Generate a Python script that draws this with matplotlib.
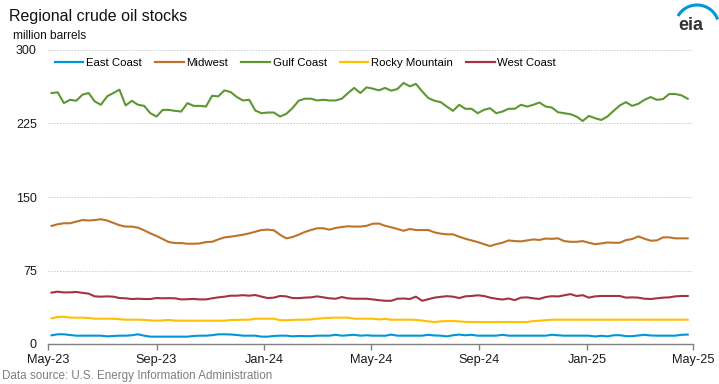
import matplotlib
matplotlib.use("Agg")
import matplotlib.pyplot as plt
import matplotlib.dates as mdates
from matplotlib.patches import Arc
from matplotlib.transforms import IdentityTransform
import pandas as pd

plt.rcParams['font.family'] = ['Liberation Sans', 'DejaVu Sans']

# ---- data (million barrels, weekly) ----
start_week = "2023-05-05"
n_weeks = 104

east_coast = [8.9, 9.9, 9.9, 9.2, 8.5, 8.5, 8.5, 8.5, 8.5, 7.8,
              8.2, 8.5, 8.5, 8.9, 9.9, 8.5, 7.5, 7.5, 7.5, 7.5,
              7.5, 7.5, 7.5, 8.2, 8.5, 8.5, 9.0, 9.9, 9.9, 9.7,
              9.2, 8.5, 8.5, 8.5, 7.5, 7.5, 8.2, 8.5, 8.5, 7.8,
              8.2, 8.0, 8.0, 8.5, 8.5, 8.5, 9.4, 8.5, 8.9, 9.4,
              8.5, 8.9,
              8.5, 8.5, 8.4, 9.6, 8.5, 8.5, 8.5, 8.5, 8.5, 9.4,
              8.7, 8.5, 7.8, 8.9, 9.6, 8.9, 9.4, 8.5, 8.5, 8.5,
              8.5, 9.4, 8.5, 8.5, 8.5, 8.5, 8.5, 8.5, 8.5, 9.4,
              8.9, 8.5, 8.5, 8.5, 8.5, 8.5, 7.7, 8.4, 7.8, 8.9,
              9.0, 8.0, 8.0, 8.7, 9.4, 8.7, 8.5, 8.5, 8.5, 8.5,
              9.4, 9.6]

midwest = [120.5, 122.2, 123.2, 123.2, 124.9, 126.5, 126.0, 126.5, 127.3, 126.0,
           123.6, 121.2, 119.8, 119.8, 118.7, 116.0, 112.9, 110.2, 107.1, 104.0,
           103.0, 103.0, 102.3, 102.3, 102.6, 104.0, 104.3, 106.7, 108.8, 109.5,
           110.5, 111.5, 112.9, 114.6, 116.3, 116.7, 116.0, 111.5, 107.8, 109.1,
           111.5, 114.3, 116.3, 118.1, 118.1, 116.7, 118.4, 119.4, 120.1, 119.8,
           119.8, 120.6,
           122.7, 122.9, 120.6, 119.1, 117.4, 115.5, 117.4, 116.3, 116.3, 116.3,
           113.9, 112.6, 111.9, 111.9, 109.5, 107.4, 105.7, 104.0, 101.9, 99.9,
           101.9, 103.3, 105.7, 105.0, 104.7, 105.7, 106.7, 106.2, 107.6, 107.3,
           107.8, 105.0, 104.3, 104.3, 105.0, 103.3, 101.9, 102.6, 103.6, 103.3,
           103.3, 106.0, 107.1, 109.8, 107.4, 105.4, 105.7, 108.8, 108.8, 107.8,
           107.8, 107.8]

gulf_coast = [256.1, 256.8, 245.8, 249.2, 248.2, 254.4, 256.1, 247.5, 244.1, 252.7,
              256.1, 259.5, 243.4, 248.2, 244.1, 243.0, 235.5, 232.1, 238.9, 238.9,
              237.9, 237.2, 245.8, 243.0, 243.0, 242.3, 253.3, 252.7, 258.8, 257.1,
              252.0, 248.5, 249.2, 238.2, 235.5, 236.2, 236.2, 232.1, 234.8, 240.6,
              248.2, 250.3, 250.3, 248.5, 249.2, 248.5, 248.5, 250.3, 256.1, 261.3,
              256.1, 261.9,
              260.6, 258.8, 261.3, 258.5, 260.2, 266.4, 262.9, 265.4, 257.8, 251.0,
              248.2, 246.8, 242.3, 237.9, 244.1, 240.0, 240.0, 235.5, 238.9, 240.6,
              235.5, 237.2, 240.0, 240.0, 244.1, 242.3, 244.1, 246.4, 242.3, 241.3,
              236.5, 235.5, 234.5, 232.1, 227.6, 232.7, 230.4, 228.6, 232.1, 237.9,
              243.4, 246.8, 243.0, 245.1, 249.2, 252.0, 249.2, 249.9, 255.1, 255.1,
              253.7, 250.3]

rocky_mountain = [26.2, 27.5, 27.9, 26.9, 26.9, 26.9, 26.5, 25.8, 25.8, 25.8,
                  25.8, 25.3, 24.8, 24.8, 24.8, 24.6, 24.1, 23.8, 24.1, 24.6,
                  23.9, 23.8, 23.8, 23.8, 23.8, 23.8, 23.8, 23.8, 23.8, 24.5,
                  24.6, 24.8, 24.8, 25.8, 25.8, 25.8, 25.8, 24.3, 24.3, 24.6,
                  24.8, 24.8, 25.1, 25.8, 26.3, 26.7, 26.9, 26.9, 26.9, 25.8,
                  25.8, 25.8,
                  25.8, 25.1, 25.6, 24.8, 24.8, 24.8, 24.8, 24.6, 23.9, 23.1,
                  22.4, 23.1, 23.4, 23.4, 23.1, 22.6, 22.4, 22.4, 22.4, 22.4,
                  22.4, 22.4, 22.4, 22.4, 22.4, 22.4, 23.4, 23.8, 24.3, 24.8,
                  24.8, 24.8, 24.8, 24.8, 24.8, 24.8, 24.8, 24.8, 24.8, 24.8,
                  24.8, 24.8, 24.8, 24.8, 24.8, 24.8, 24.8, 24.8, 24.8, 24.8,
                  24.8, 24.8]

west_coast = [52.4, 53.4, 52.6, 52.7, 53.1, 52.2, 51.4, 48.6, 48.3, 48.6,
              48.3, 46.9, 46.6, 45.9, 46.2, 45.9, 45.9, 46.9, 46.6, 46.8,
              46.6, 45.5, 45.7, 46.0, 45.5, 45.5, 46.6, 47.6, 48.3, 49.3,
              49.3, 49.8, 49.3, 50.0, 48.3, 46.9, 47.3, 49.0, 48.6, 46.9,
              46.8, 47.3, 47.6, 48.6, 47.6, 46.6, 46.2, 47.9, 46.6, 46.2,
              46.2, 46.2,
              45.5, 44.7, 44.1, 44.1, 46.2, 46.4, 45.9, 48.3, 44.1, 45.7,
              47.3, 48.1, 48.8, 48.3, 46.9, 48.6, 49.0, 49.7, 49.0, 47.3,
              46.2, 45.4, 46.4, 44.8, 47.3, 47.6, 46.6, 46.0, 47.9, 48.8,
              48.5, 49.7, 50.9, 49.0, 49.8, 47.3, 48.6, 49.0, 49.0, 49.0,
              49.0, 47.3, 47.6, 47.3, 46.2, 45.9, 46.6, 47.3, 47.6, 48.6,
              49.0, 49.0]

series_names = ["East Coast", "Midwest", "Gulf Coast", "Rocky Mountain", "West Coast"]
series_values = [east_coast, midwest, gulf_coast, rocky_mountain, west_coast]
series_colors = ["#0096d7", "#bd732a", "#5d9732", "#ffc000", "#a33340"]

y_ticks = [0, 75, 150, 225, 300]
x_tick_dates = ["2023-05-01", "2023-09-01", "2024-01-01", "2024-05-01",
                "2024-09-01", "2025-01-01", "2025-05-01"]

weeks = pd.date_range(start_week, periods=n_weeks, freq="7D")

# ---- figure ----
W, H = 719, 384
fig = plt.figure(figsize=(W / 100, H / 100), dpi=100)
ax = fig.add_axes([48 / W, 1 - 344 / H, (693 - 48) / W, (344 - 50) / H])

for name, vals, col in zip(series_names, series_values, series_colors):
    ax.plot(weeks, vals, color=col, lw=1.5, label=name, solid_joinstyle="round")

ax.set_xlim(pd.Timestamp("2023-05-01"), pd.Timestamp("2025-05-01"))
ax.set_ylim(0, 300)
ax.set_yticks(y_ticks)
ax.set_xticks(pd.to_datetime(x_tick_dates))
ax.xaxis.set_major_formatter(mdates.DateFormatter("%b-%y"))

ax.grid(axis="y", color="#cdc8d0", lw=0.7, linestyle=(0, (1.5, 1.5)))
ax.set_axisbelow(True)
for s in ["left", "top", "right"]:
    ax.spines[s].set_visible(False)
ax.spines["bottom"].set_color("#808080")
ax.spines["bottom"].set_linewidth(1.0)
ax.tick_params(axis="y", length=0, pad=8, labelsize=9, labelcolor="#1a1a1a")
ax.tick_params(axis="x", length=4, width=1, color="#808080", pad=3,
               labelsize=9.2, labelcolor="#1a1a1a")

leg = ax.legend(loc="center left", bbox_to_anchor=(55 / W, 1 - 63 / H),
                bbox_transform=fig.transFigure, ncol=5, frameon=False,
                fontsize=8.2, handlelength=2.5, handletextpad=0.25,
                columnspacing=1.15, borderpad=0, borderaxespad=0)
for line in leg.get_lines():
    line.set_linewidth(1.6)

fig.text(9 / W, 1 - 21 / H, "Regional crude oil stocks", fontsize=11.5,
         color="#111111", va="baseline", ha="left")
fig.text(13 / W, 1 - 39 / H, "million barrels", fontsize=8.6,
         color="#111111", va="baseline", ha="left")
fig.text(2 / W, 1 - 379 / H, "Data source: U.S. Energy Information Administration",
         fontsize=8.4, color="#7f7f7f", va="baseline", ha="left")

# EIA logo
fig.text(691 / W, 1 - 30 / H, "eia", fontsize=13, fontweight="bold",
         color="#333333", ha="center", va="baseline")
fig.add_artist(Arc((697, H - 27), 44, 44, theta1=20, theta2=150,
                   transform=IdentityTransform(), color="#0096d7", lw=2.2))

fig.savefig("out.png", dpi=100)
